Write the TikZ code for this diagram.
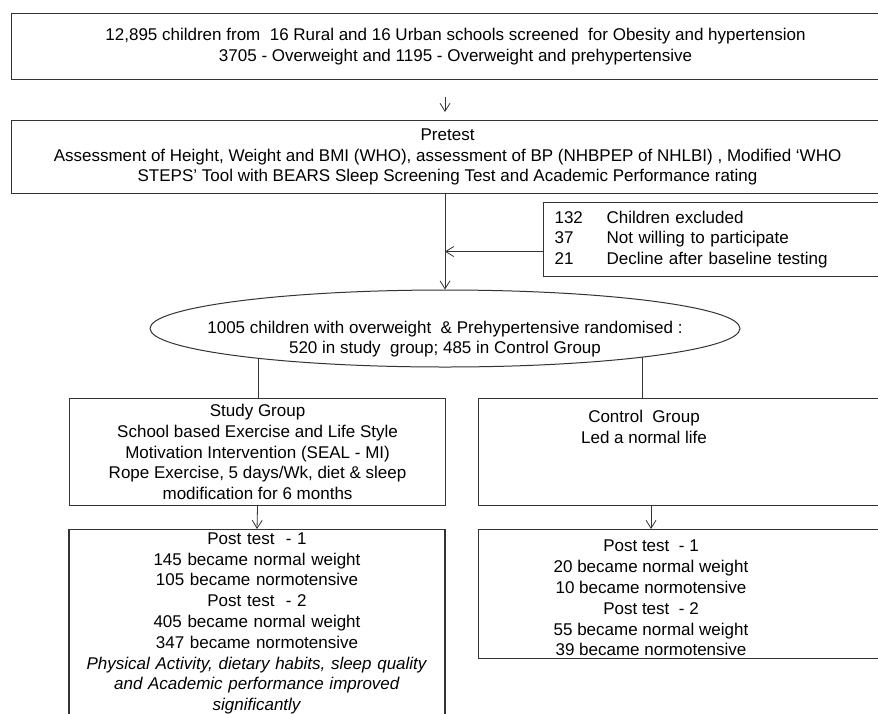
\documentclass[tikz,border=0pt]{standalone}
\usepackage{fontspec}
\setmainfont{Liberation Sans}
\usetikzlibrary{arrows.meta, shapes.geometric, positioning, calc}
\tikzset{>={Straight Barb[length=8pt,width=10pt]}}
\tikzset{
  box/.style={draw=black!80, line width=1.1pt, rectangle, inner sep=0pt, align=center},
  conn/.style={draw=black!80, line width=0.8pt},
  txt/.style={inner sep=0pt, align=center},
}

\begin{document}
\begin{tikzpicture}[x=1pt, y=-1pt, font=\fontsize{17}{20.8}\selectfont]
\useasboundingbox (0,0) rectangle (878,713);
% screening and pretest
\node[box, anchor=north west, minimum width=888, minimum height=66] (screen) at (11,13)
  {12,895 children from\ \ 16 Rural and 16 Urban schools screened\ \ for Obesity and hypertension\\
   3705 - Overweight and 1195 - Overweight and prehypertensive};
\node[box, anchor=north west, minimum width=872, minimum height=73] (pretest) at (11,120)
  {Pretest\\
   Assessment of Height, Weight and BMI (WHO), assessment of BP (NHBPEP of NHLBI) , Modified ‘WHO\\
   STEPS’ Tool with BEARS Sleep Screening Test and Academic Performance rating};
% excluded
\node[box, anchor=north west, text width=338, inner xsep=11pt, minimum height=74, align=left] (excl) at (543,202)
  {\makebox[52pt][l]{132}Children excluded\\
   \makebox[52pt][l]{37}Not willing to participate\\
   \makebox[52pt][l]{21}Decline after baseline testing};
% randomisation
\node[draw=black!80, line width=1pt, ellipse, minimum width=590, minimum height=77, inner sep=0pt] (rand) at (445,328.5) {};
\node[txt] (randtxt) at (445,339)
  {1005 children with overweight\ \ \& Prehypertensive randomised :\\
   520 in study\ \ group; 485 in Control Group};
\coordinate (studyfork) at ($(rand.center)+(-187,29.8)$);
\coordinate (ctrlfork) at ($(rand.center)+(197,28.6)$);
% groups
\node[box, anchor=north west, minimum width=376, minimum height=107] (study) at (69,398)
  {Study Group\\
   School based Exercise and Life Style\\
   Motivation Intervention (SEAL - MI)\\
   Rope Exercise, 5 days/Wk, diet \& sleep\\
   modification for 6 months};
\node[box, anchor=north west, minimum width=430, minimum height=107] (control) at (478,398) {};
\node[txt, anchor=north] (controltxt) at (644,410) {Control\ \ Group\\Led a normal life};
% post tests
\node[box, anchor=north, text width=376, inner ysep=3pt] (studypost) at (257,529)
  {Post test\ \ - 1\\
   145 became normal weight\\
   105 became normotensive\\
   Post test\ \ - 2\\
   405 became normal weight\\
   347 became normotensive\\
   \textit{Physical Activity, dietary habits, sleep quality}\\
   \textit{and Academic performance improved}\\
   \textit{significantly}};
\node[box, anchor=north west, minimum width=430, minimum height=129] (ctrlpost) at (478,529) {};
\node[txt, anchor=north] (ctrlposttxt) at (651,540)
  {Post test\ \ - 1\\
   20 became normal weight\\
   10 became normotensive\\
   Post test\ \ - 2\\
   55 became normal weight\\
   39 became normotensive};
% connectors
\draw[conn, ->, shorten <=17pt, shorten >=8pt] (screen.south -| rand.north) -- (pretest.north -| rand.north);
\draw[conn, ->] (pretest.south -| rand.north) -- (rand.north);
\draw[conn, ->] ([yshift=-12pt]excl.west) -- ([yshift=-12pt]excl.west -| rand.north);
\draw[conn] (studyfork) -- (studyfork |- study.north);
\draw[conn] (ctrlfork) -- (ctrlfork |- control.north);
\draw[conn, ->] (study.south) -- (studypost.north);
\draw[conn, ->] (control.south -| ctrlposttxt.north) -- (ctrlpost.north -| ctrlposttxt.north);
\end{tikzpicture}
\end{document}
